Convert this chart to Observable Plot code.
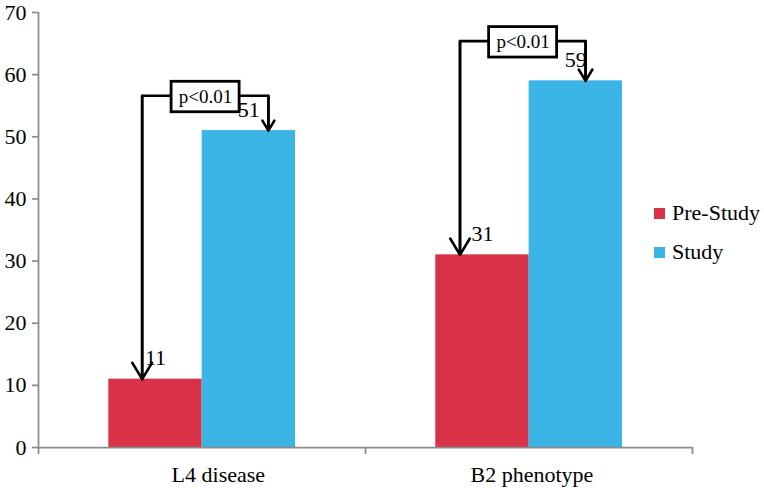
<!DOCTYPE html>
<html><head><meta charset="utf-8">
<script src="https://cdn.jsdelivr.net/npm/d3@7"></script>
<script src="https://cdn.jsdelivr.net/npm/@observablehq/plot@0.6"></script>
<style>
body{margin:0;background:#fff;}
#wrap{position:relative;width:764px;height:488px;font-family:"Liberation Serif","DejaVu Serif",serif;}
#wrap svg, #wrap svg text{font-family:"Liberation Serif","DejaVu Serif",serif !important;}
.legend{position:absolute;left:654px;top:200px;font-size:22px;color:#000;font-family:"Liberation Serif","DejaVu Serif",serif;}
.item{display:flex;align-items:center;height:26px;margin-bottom:13px;}
.sw{width:11px;height:11px;margin-right:7px;}
</style></head><body><div id="wrap"></div><script>
// ---- data ----
const categories = ["L4 disease", "B2 phenotype"];
const series = ["Pre-Study", "Study"];
const preStudy = [11, 31];
const study = [51, 59];
const pLabels = ["p<0.01", "p<0.01"];
const bracketLevel = [56.6, 65.4];   // height of the significance bracket (axis units)
const yTicks = [0, 10, 20, 30, 40, 50, 60, 70];
const colors = ["#d93148", "#3bb4e6"];

// ---- layout (fractions of a category band) ----
const barStart = 0.215, barW = 0.2855;
const labelPos = [0.55, 0.509];
const arrowLeft = [0.317, 0.289];
const arrowRight = [0.703, 0.673];
const boxCenter = [0.511, 0.482];
const boxHalfW = 0.104, boxHalfH = 2.45;

const values = [preStudy, study];
const bars = [];
categories.forEach((c, i) => series.forEach((s, k) => {
  const x1 = i + barStart + k * barW;
  bars.push({cat: c, series: s, x1, x2: x1 + barW, xm: x1 + barW / 2, y: values[k][i]});
}));

const paths = [];
const arrows = [];
const boxes = [];
categories.forEach((c, i) => {
  const xl = i + arrowLeft[i], xr = i + arrowRight[i], lv = bracketLevel[i];
  paths.push({g: c, x: xl, y: preStudy[i]}, {g: c, x: xl, y: lv}, {g: c, x: xr, y: lv}, {g: c, x: xr, y: study[i]});
  arrows.push({x: xl, y1: lv, y2: preStudy[i]}, {x: xr, y1: lv, y2: study[i]});
  boxes.push({cx: i + boxCenter[i], y: lv, label: pLabels[i]});
});

const axisGray = "#8c8c8c";
const chart = Plot.plot({
  width: 764, height: 488,
  marginLeft: 38, marginRight: 72, marginTop: 12, marginBottom: 41,
  style: {fontFamily: "Liberation Serif, serif", fontSize: "22px", color: "#000", background: "#fff"},
  x: {domain: [0, categories.length]},
  y: {domain: [0, 70]},
  color: {domain: series, range: colors},
  marks: [
    Plot.rectY(bars, {x1: "x1", x2: "x2", y: "y", fill: "series"}),
    Plot.ruleX([0], {stroke: axisGray, strokeWidth: 1.75}),
    Plot.ruleY([0], {stroke: axisGray, strokeWidth: 1.75}),
    Plot.axisY({ticks: yTicks, tickSize: 6, tickPadding: 6, stroke: axisGray, strokeWidth: 1.75, label: null, fill: "#000", fontSize: 22}),
    Plot.axisX({ticks: d3.range(0, categories.length + 1), tickSize: 7, tickFormat: () => "", stroke: axisGray, strokeWidth: 1.75, label: null}),
    Plot.axisX({ticks: categories.map((c, i) => i + labelPos[i]), tickSize: 0, tickPadding: 19, tickFormat: (d) => categories[Math.floor(d)], label: null, fill: "#000", fontSize: 22}),
    Plot.line(paths, {x: "x", y: "y", z: "g", stroke: "#000", strokeWidth: 2.6, strokeLinejoin: "miter"}),
    Plot.arrow(arrows, {x: "x", y1: "y1", y2: "y2", stroke: "#000", strokeWidth: 2.6, headLength: 11, headAngle: 62}),
    Plot.rect(boxes, {x1: (d) => d.cx - boxHalfW, x2: (d) => d.cx + boxHalfW, y1: (d) => d.y - boxHalfH - 0.2, y2: (d) => d.y + boxHalfH - 0.2, fill: "#fff", stroke: "#000", strokeWidth: 2.8}),
    Plot.text(boxes, {x: "cx", y: (d) => d.y - 0.2, text: "label", fontSize: 19, fill: "#000"}),
    Plot.text(bars, {x: "xm", y: "y", text: (d) => String(d.y), lineAnchor: "bottom", dy: -14, fontSize: 22, fill: "#000"})
  ]
});
const wrap = document.getElementById("wrap");
wrap.appendChild(chart);
const leg = document.createElement("div");
leg.className = "legend";
series.forEach((s, k) => {
  const it = document.createElement("div");
  it.className = "item";
  const sw = document.createElement("span");
  sw.className = "sw"; sw.style.background = colors[k];
  const t = document.createElement("span");
  t.textContent = s;
  it.appendChild(sw); it.appendChild(t);
  leg.appendChild(it);
});
wrap.appendChild(leg);
</script></body></html>
